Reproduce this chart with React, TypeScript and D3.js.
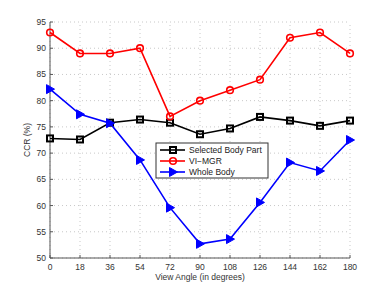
import React from 'react';
import * as d3 from 'd3';

const angles = [0, 18, 36, 54, 72, 90, 108, 126, 144, 162, 180];
const selectedBodyPart = [72.8, 72.6, 75.8, 76.4, 75.8, 73.6, 74.7, 76.9, 76.2, 75.2, 76.2];
const viMgr = [93, 89, 89, 90, 77, 80, 82, 84, 92, 93, 89];
const wholeBody = [82.2, 77.4, 75.7, 68.7, 59.6, 52.7, 53.6, 60.6, 68.2, 66.6, 72.5];
const yTicks = [50, 55, 60, 65, 70, 75, 80, 85, 90, 95];
const seriesNames = ['Selected Body Part', 'VI\u2212MGR', 'Whole Body'];

const W = 387;
const H = 291;
const margin = { top: 22, right: 37, bottom: 33, left: 50 };
const font = 'Helvetica, Arial, "Liberation Sans", sans-serif';
const fs = 8.5;

const App: React.FC = () => {
  const x = d3.scaleLinear().domain([0, 180]).range([margin.left, W - margin.right]);
  const y = d3.scaleLinear().domain([50, 95]).range([H - margin.bottom, margin.top]);

  const line = d3
    .line<number>()
    .x((_, i) => x(angles[i]))
    .y(d => y(d));

  const series = [
    { name: seriesNames[0], values: selectedBodyPart, color: '#000000', marker: 'square' },
    { name: seriesNames[1], values: viMgr, color: '#ff0000', marker: 'circle' },
    { name: seriesNames[2], values: wholeBody, color: '#0000ff', marker: 'triangle' },
  ];

  const marker = (type: string, cx: number, cy: number, color: string, key: string | number) => {
    if (type === 'square') {
      return <rect key={key} x={cx - 3} y={cy - 3} width={6} height={6} fill="none" stroke={color} strokeWidth={2} />;
    }
    if (type === 'circle') {
      return <circle key={key} cx={cx} cy={cy} r={3.3} fill="none" stroke={color} strokeWidth={1.6} />;
    }
    return (
      <path
        key={key}
        d={`M${cx + 4.5},${cy} L${cx - 3.5},${cy - 4.5} L${cx - 3.5},${cy + 4.5} Z`}
        fill={color}
        stroke={color}
        strokeWidth={1}
      />
    );
  };

  const x0 = x.range()[0];
  const x1 = x.range()[1];
  const y0 = y.range()[0];
  const y1 = y.range()[1];

  const legend = { x: 156, y: 143, w: 112, h: 35 };

  return (
    <svg width={W} height={H} style={{ position: 'absolute', left: 0, top: 0, background: '#fff' }}>
      {/* grid */}
      {angles.map(a => (
        <line key={'gx' + a} x1={x(a)} x2={x(a)} y1={y0} y2={y1} stroke="#c8c8c8" strokeWidth={1} strokeDasharray="1,3" />
      ))}
      {yTicks.map(t => (
        <line key={'gy' + t} x1={x0} x2={x1} y1={y(t)} y2={y(t)} stroke="#c8c8c8" strokeWidth={1} strokeDasharray="1,3" />
      ))}

      {/* axes */}
      <line x1={x0} x2={x0} y1={y0} y2={y1} stroke="#555" strokeWidth={1} />
      <line x1={x0} x2={x1} y1={y0} y2={y0} stroke="#555" strokeWidth={1} />
      {angles.map(a => (
        <g key={'tx' + a}>
          <line x1={x(a)} x2={x(a)} y1={y0} y2={y0 - 3} stroke="#555" />
          <text x={x(a)} y={y0 + 12} textAnchor="middle" fontSize={fs} fill="#333" fontFamily={font}>
            {a}
          </text>
        </g>
      ))}
      {yTicks.map(t => (
        <g key={'ty' + t}>
          <line x1={x0} x2={x0 + 3} y1={y(t)} y2={y(t)} stroke="#555" />
          <text x={x0 - 4} y={y(t) + 3} textAnchor="end" fontSize={fs} fill="#333" fontFamily={font}>
            {t}
          </text>
        </g>
      ))}
      <text x={(x0 + x1) / 2} y={y0 + 22} textAnchor="middle" fontSize={fs} fill="#333" fontFamily={font}>
        View Angle (in degrees)
      </text>
      <text
        transform={`translate(${x0 - 20},${(y0 + y1) / 2}) rotate(-90)`}
        textAnchor="middle"
        fontSize={fs}
        fill="#333"
        fontFamily={font}
      >
        CCR (%)
      </text>

      {/* series */}
      {series.map(s => (
        <g key={s.name}>
          <path d={line(s.values) || ''} fill="none" stroke={s.color} strokeWidth={1.6} />
          {s.values.map((v, i) => marker(s.marker, x(angles[i]), y(v), s.color, i))}
        </g>
      ))}

      {/* legend */}
      <rect x={legend.x} y={legend.y} width={legend.w} height={legend.h} fill="#fff" stroke="#333" strokeWidth={1} />
      {series.map((s, i) => {
        const ly = legend.y + 7 + i * 11;
        return (
          <g key={'lg' + s.name}>
            <line x1={legend.x + 4} x2={legend.x + 29} y1={ly} y2={ly} stroke={s.color} strokeWidth={1.6} />
            {marker(s.marker, legend.x + 17, ly, s.color, 'm')}
            <text x={legend.x + 33} y={ly + 3} fontSize={fs} fill="#222" fontFamily={font}>
              {s.name}
            </text>
          </g>
        );
      })}
    </svg>
  );
};

export default App;
